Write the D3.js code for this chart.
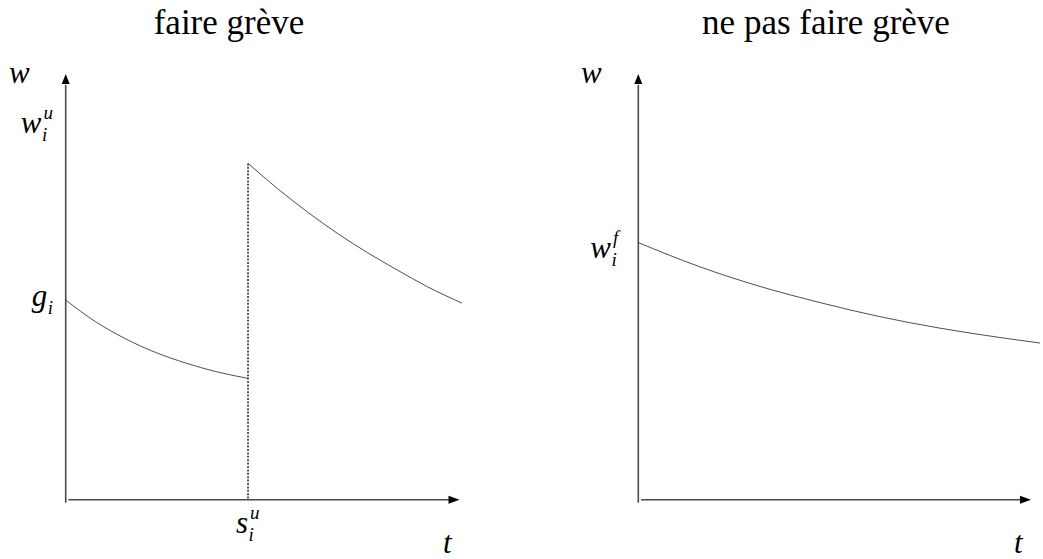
<!DOCTYPE html>
<html>
<head>
<meta charset="utf-8">
<script src="https://cdn.jsdelivr.net/npm/d3@7"></script>
<style>
  html, body { margin: 0; padding: 0; background: #fff; }
  svg { display: block; }
  .title { font-family: "Liberation Serif", "DejaVu Serif", serif; font-size: 35px; fill: #000; }
  .math { font-family: "Liberation Serif", serif; font-style: italic; fill: #000; }
</style>
</head>
<body>
<svg id="chart" width="1043" height="559"></svg>
<script>
// Panel titles
const titles = ["faire grève", "ne pas faire grève"];

// Wage path when striking: before the strike ends (t, w)
const strikeBeforeT = [0, 7.6, 15.2, 22.8, 30.5, 38.1, 46.3];
const strikeBeforeW = [46.9, 41.8, 37.8, 34.6, 32.1, 30.1, 28.5];

// Wage path after the strike settles at s_i^u
const strikeAfterT = [46.3, 53.9, 61.5, 69.1, 76.7, 84.3, 91.9, 100.6];
const strikeAfterW = [79.0, 73.0, 67.5, 62.5, 58.0, 53.9, 50.0, 46.2];

// Wage path without a strike
const noStrikeT = [0, 15.7, 31.0, 46.3, 61.5, 76.8, 92.1, 102.3];
const noStrikeW = [60.4, 54.7, 50.1, 46.3, 43.0, 40.3, 38.1, 36.8];

// Settlement date
const strikeTime = 46.3;

// Symbolic tick labels on the w axes
const leftTickW = [46.9, 87.6];
const leftTickBase = ["g", "w"];
const leftTickSub = ["i", "i"];
const leftTickSup = ["", "u"];
const rightTickW = [58.4];
const rightTickBase = ["w"];
const rightTickSub = ["i"];
const rightTickSup = ["f"];

const svg = d3.select("#chart");

const y = d3.scaleLinear().domain([0, 100]).range([499.7, 74]);
const xLeft = d3.scaleLinear().domain([0, 100]).range([65.7, 459.5]);
const xRight = d3.scaleLinear().domain([0, 100]).range([638.3, 1031]);

const axisColor = "#4a4a4a";
const curveColor = "#3a3a3a";

// Math-style label: base letter with optional subscript and superscript
function mathLabel(g, x, baseline, base, sub, sup, anchorRight) {
  const grp = g.append("g");
  const b = grp.append("text").attr("class", "math")
    .attr("font-size", 31).attr("x", 0).attr("y", baseline).text(base);
  const bw = b.node().getComputedTextLength();
  if (sub) {
    grp.append("text").attr("class", "math").attr("font-size", 19)
      .attr("x", bw + 0.5).attr("y", baseline + 8).text(sub);
  }
  if (sup) {
    grp.append("text").attr("class", "math").attr("font-size", 19)
      .attr("x", bw + 2).attr("y", baseline - 14).text(sup);
  }
  const bbox = grp.node().getBBox();
  const shift = anchorRight ? x - (bbox.x + bbox.width) : x;
  grp.attr("transform", `translate(${shift},0)`);
  return grp;
}

function drawArrowAxes(g, x) {
  // vertical axis
  g.append("line")
    .attr("x1", x(0)).attr("x2", x(0))
    .attr("y1", y(-0.7)).attr("y2", y(97.5))
    .attr("stroke", axisColor).attr("stroke-width", 1.6);
  g.append("path")
    .attr("d", `M${x(0)},${y(100)} L${x(0) - 4},${y(100) + 10} L${x(0) + 4},${y(100) + 10} Z`)
    .attr("fill", "#000");
  // horizontal axis
  g.append("line")
    .attr("x1", x(0.7)).attr("x2", x(97.5))
    .attr("y1", y(0)).attr("y2", y(0))
    .attr("stroke", axisColor).attr("stroke-width", 1.6);
  g.append("path")
    .attr("d", `M${x(100)},${y(0)} L${x(100) - 11},${y(0) - 4} L${x(100) - 11},${y(0) + 4} Z`)
    .attr("fill", "#000");
}

const line = (x) => d3.line()
  .x(d => x(d[0]))
  .y(d => y(d[1]))
  .curve(d3.curveMonotoneX);

function drawCurve(g, x, ts, ws) {
  g.append("path")
    .datum(ts.map((t, i) => [t, ws[i]]))
    .attr("d", line(x))
    .attr("fill", "none")
    .attr("stroke", curveColor)
    .attr("stroke-width", 0.9);
}

// ---- Left panel: striking ----
const left = svg.append("g");
left.append("text").attr("class", "title")
  .attr("x", 229).attr("y", 34).attr("text-anchor", "middle").text(titles[0]);
drawArrowAxes(left, xLeft);
drawCurve(left, xLeft, strikeBeforeT, strikeBeforeW);
drawCurve(left, xLeft, strikeAfterT, strikeAfterW);
left.append("line")
  .attr("x1", xLeft(strikeTime)).attr("x2", xLeft(strikeTime))
  .attr("y1", y(strikeAfterW[0])).attr("y2", y(0))
  .attr("stroke", "#333").attr("stroke-width", 1.6)
  .attr("stroke-dasharray", "2,1.4");

mathLabel(left, 9, 83, "w", "", "", false);
leftTickW.forEach((w, i) => {
  mathLabel(left, 53, y(w) + 6, leftTickBase[i], leftTickSub[i], leftTickSup[i], true);
});
mathLabel(left, 236, 533, "s", "i", "u", false);
mathLabel(left, 443, 553, "t", "", "", false);

// ---- Right panel: not striking ----
const right = svg.append("g");
right.append("text").attr("class", "title")
  .attr("x", 826).attr("y", 34).attr("text-anchor", "middle").text(titles[1]);
drawArrowAxes(right, xRight);
drawCurve(right, xRight, noStrikeT, noStrikeW);

mathLabel(right, 581, 83, "w", "", "", false);
rightTickW.forEach((w, i) => {
  mathLabel(right, 621, y(w) + 7, rightTickBase[i], rightTickSub[i], rightTickSup[i], true);
});
mathLabel(right, 1014, 553, "t", "", "", false);
</script>
</body>
</html>
